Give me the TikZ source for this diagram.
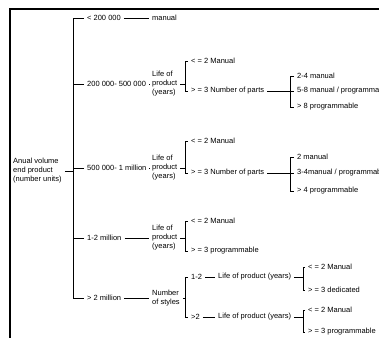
\documentclass[tikz,border=0pt]{standalone}
\usepackage{fontspec}
\setmainfont{Liberation Sans}
\tikzset{
  txt/.style={anchor=west, inner xsep=3pt, inner ysep=1pt, align=left,
    font=\fontsize{7.5}{9}\selectfont},
  link/.style={line width=0.6pt},
}
\begin{document}
\begin{tikzpicture}[x=1pt,y=-1pt]
  \useasboundingbox (0,0) rectangle (379,337);
  \clip (0,0) rectangle (379,337);
  \draw[line width=1.2pt] (10,345) -- (10,9) -- (390,9);

  % first level
  \coordinate (sp0) at (73,0);
  \node[txt] (root) at (10,171) {Anual volume\\end product\\(number units)};
  \node[txt] (v1) at (84,18) {< 200 000};
  \node[txt] (v2) at (84,84) {200 000- 500 000};
  \node[txt] (v3) at (84,168) {500 000- 1 million};
  \node[txt] (v4) at (84,238) {1-2 million};
  \node[txt] (v5) at (84,298) {> 2 million};
  \draw[line width=0.9pt] (v1.west) -- (v1.west -| sp0) -- (v5.west -| sp0) -- (v5.west);
  \foreach \n in {v2,v3,v4}
    \draw[link] (\n.west) -- (\n.west -| sp0);
  \draw[link] (root.east) -- (root.east -| sp0);

  \node[txt] (m1) at (149,18) {manual};
  \node[txt] (l2) at (149,84) {Life of\\product\\(years)};
  \node[txt] (l3) at (149,168) {Life of\\product\\(years)};
  \node[txt] (l4) at (149,238) {Life of\\product\\(years)};
  \node[txt] (s5) at (149,298) {Number\\of styles};
  \draw[link] (v1) -- (m1);
  \draw[link] (v2) -- (v2.east -| l2.west);
  \draw[link] (v3) -- (v3.east -| l3.west);
  \draw[link] (v4) -- (v4.east -| l4.west);
  \draw[link] (v5) -- (v5.east -| s5.west);

  % second level
  \coordinate (sp1) at (185,0);
  \node[txt] (a2) at (188,61) {< = 2 Manual};
  \node[txt] (b2) at (188,91) {> = 3 Number of parts};
  \node[txt] (a3) at (188,141) {< = 2 Manual};
  \node[txt] (b3) at (188,173) {> = 3 Number of parts};
  \node[txt] (a4) at (188,221) {< = 2 Manual};
  \node[txt] (b4) at (188,251) {> = 3 programmable};
  \node[txt] (c5) at (188,277) {1-2};
  \node[txt] (d5) at (188,317) {>2};
  \foreach \p/\q/\r in {a2/b2/l2,a3/b3/l3,a4/b4/l4,c5/d5/s5} {
    \draw[link] (\p.west) -- (\p.west -| sp1) -- (\q.west -| sp1) -- (\q.west);
    \draw[link] (\r.east) -- (\r.east -| sp1);
  }

  % third level
  \coordinate (sp2) at (290,0);
  \node[txt] (e2) at (294,76) {2-4 manual};
  \node[txt] (f2) at (294,91) {5-8 manual / programmable};
  \node[txt] (g2) at (294,107) {> 8 programmable};
  \node[txt] (e3) at (294,157) {2 manual};
  \node[txt] (f3) at (294,173) {3-4manual / programmable};
  \node[txt] (g3) at (294,191) {> 4 programmable};
  \foreach \p/\q/\r/\s in {e2/f2/g2/b2,e3/f3/g3/b3} {
    \draw[link] (\p.west) -- (\p.west -| sp2) -- (\r.west -| sp2) -- (\r.west);
    \draw[link] (\s) -- (\q);
  }

  \coordinate (sp3) at (303,0);
  \node[txt] (h5) at (215,277) {Life of product (years)};
  \node[txt] (k5) at (215,317) {Life of product (years)};
  \node[txt] (i5) at (305,267) {< = 2 Manual};
  \node[txt] (j5) at (305,290) {> = 3 dedicated};
  \node[txt] (m5) at (305,310) {< = 2 Manual};
  \node[txt] (n5) at (305,332) {> = 3 programmable};
  \draw[link] (c5) -- (h5);
  \draw[link] (d5) -- (k5);
  \foreach \p/\q/\r in {i5/j5/h5,m5/n5/k5} {
    \draw[link] (\p.west) -- (\p.west -| sp3) -- (\q.west -| sp3) -- (\q.west);
    \draw[link] (\r.east) -- (\r.east -| sp3);
  }
\end{tikzpicture}
\end{document}
